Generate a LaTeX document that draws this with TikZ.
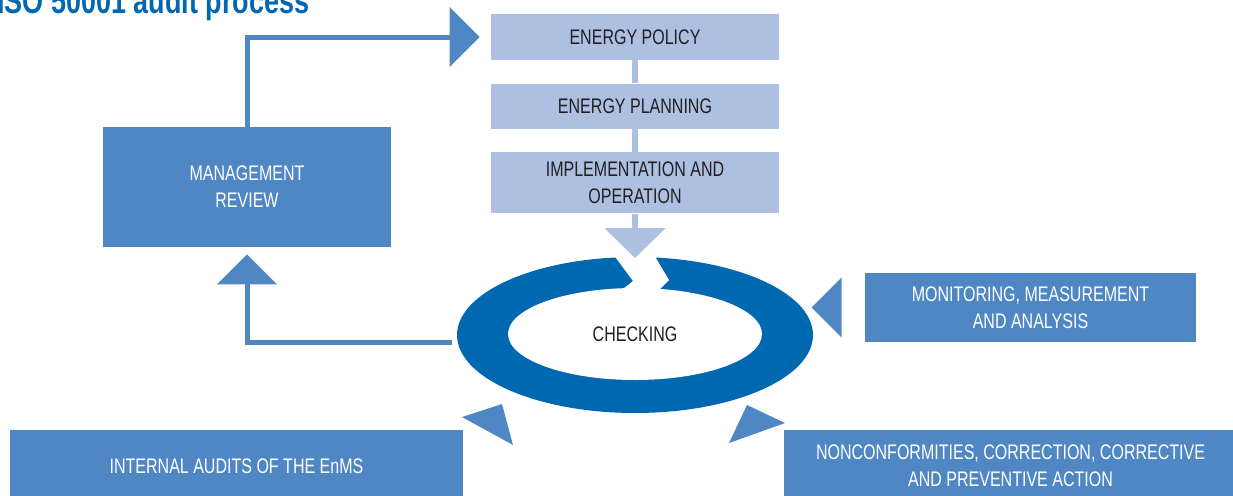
\documentclass[tikz,border=0pt]{standalone}
\usepackage{fontspec}
\setmainfont[FakeStretch=0.76]{Liberation Sans}
\usepackage{xcolor}
\usepackage{tikz}
\usetikzlibrary{shapes,arrows.meta,positioning}

\definecolor{lightbox}{HTML}{ADC0E2}
\definecolor{midbox}{HTML}{4F86C4}
\definecolor{ringblue}{HTML}{0067B1}
\definecolor{darktext}{HTML}{231F20}

\begin{document}
\begin{tikzpicture}[
                x=0.02cm,
                y=-0.02cm,
                boxlabel/.style={
                    align=center,
                    inner sep=0pt,
                    font=\fontsize{12}{15.4}\selectfont
                    },
                lightstep/.style={
                    boxlabel,
                    fill=lightbox,
                    text=darktext,
                    minimum width=5.76cm
                    },
                darkstep/.style={
                    boxlabel,
                    fill=midbox,
                    text=white
                    },
                flow/.style={
                    line width=0.1cm,
                    draw=midbox,
                    -{Triangle[length=0.6cm,width=1.18cm]}
                    }
                ]

                \useasboundingbox (0,0) rectangle (1233,495);
                \clip (0,0) rectangle (1233,495);

                \node[
                    anchor=base west,
                    inner sep=0pt,
                    text=ringblue,
                    font=\bfseries\fontsize{20.2}{24}\selectfont
                    ] (title) at (-3,13) {ISO 50001 audit process};

                % plan / do column
                \node[lightstep, minimum height=0.92cm] (policy) at (635,37) {ENERGY POLICY};
                \node[lightstep, minimum height=0.9cm, below=0.46cm of policy] (planning) {ENERGY PLANNING};
                \node[lightstep, minimum height=1.22cm, below=0.46cm of planning] (implementation) {IMPLEMENTATION AND\\OPERATION};

                \draw[line width=0.12cm, draw=lightbox] (policy.south) to (planning.north);
                \draw[line width=0.12cm, draw=lightbox] (planning.south) to (implementation.north);

                % checking ring
                \node[
                    ellipse,
                    fill=ringblue,
                    inner sep=0pt,
                    minimum width=7.12cm,
                    minimum height=3.12cm
                    ] (ring) at (635,335) {};

                \node[
                    ellipse,
                    fill=white,
                    inner sep=0pt,
                    text=darktext,
                    font=\fontsize{12}{15.4}\selectfont,
                    minimum width=5.08cm,
                    minimum height=1.84cm
                    ] (checking) at (635,334) {CHECKING};

                \fill[white] (610,250) -- (633,281) -- (614,296) -- (653,296) -- (669,280) -- (651,250) -- cycle;

                \coordinate (ringgap) at (635,258);
                \draw[
                    line width=0.12cm,
                    draw=lightbox,
                    -{Triangle[length=0.6cm,width=1.2cm]}
                    ] (implementation.south) to (ringgap);

                % act
                \node[darkstep, minimum width=5.76cm, minimum height=2.4cm] (review) at (247,187) {MANAGEMENT\\REVIEW};

                \draw[flow, shorten >=0.22cm] (review.north) |- (policy.west);

                \coordinate (ringleft) at (452,342);
                \draw[flow, shorten >=0.14cm] (ringleft) -| (review.south);

                % inputs to checking
                \node[darkstep, minimum width=6.62cm, minimum height=1.38cm] (monitoring) at (1030.5,307.5) {MONITORING, MEASUREMENT\\AND ANALYSIS};
                \node[darkstep, minimum width=9.06cm, minimum height=1.44cm] (audits) at (236.5,466) {INTERNAL AUDITS OF THE EnMS};
                \node[darkstep, minimum width=9.06cm, minimum height=1.44cm] (nonconformities) at (1010.5,466) {NONCONFORMITIES, CORRECTION, CORRECTIVE\\AND PREVENTIVE ACTION};

                \fill[midbox] ([xshift=-0.46cm]monitoring.west) ++(0,30) -- ++(0,-60) -- ++(-30,30) -- cycle;
                \fill[midbox] (462,417) -- (502,404) -- (513,445) -- cycle;
                \fill[midbox] (785,423) -- (747,405) -- (729,443) -- cycle;

\end{tikzpicture}
\end{document}
